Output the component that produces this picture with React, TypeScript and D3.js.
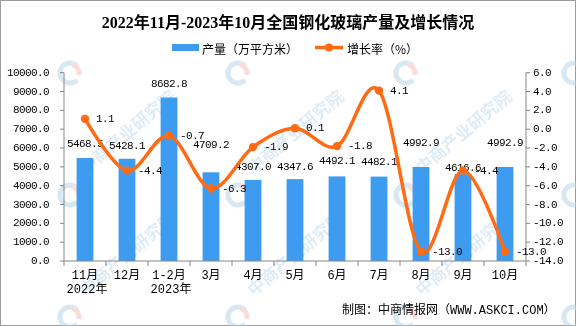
import React from "react";
import * as d3 from "d3";

const categories = ["11月", "12月", "1-2月", "3月", "4月", "5月", "6月", "7月", "8月", "9月", "10月"];
const yearLabels = ["2022年", "", "2023年", "", "", "", "", "", "", "", ""];
const production = [5468.5, 5428.1, 8682.8, 4709.2, 4307.0, 4347.6, 4492.1, 4482.1, 4992.9, 4616.6, 4992.9];
const growth = [1.1, -4.4, -0.7, -6.3, -1.9, 0.1, -1.8, 4.1, -13.0, -4.4, -13.0];
const leftTicks = [0, 1000, 2000, 3000, 4000, 5000, 6000, 7000, 8000, 9000, 10000];
const rightTicks = [-14, -12, -10, -8, -6, -4, -2, 0, 2, 4, 6];
// label lift above bar tops (layout only)
const barLabelLift = [14, 13, 14, 27, 13, 12, 15, 15, 24, 6, 24];

const W = 576;
const H = 326;
const X0 = 64;
const X1 = 526;
const YT = 72.7;
const YB = 261;

const BLUE = "#3d9cf0";
const ORANGE = "#ff6a12";
const AXIS = "#868686";
const MONO = "'Liberation Mono', 'Noto Sans CJK SC', monospace";
const CJK = "'Noto Sans CJK SC', sans-serif";

export default function App() {
  const x = d3.scaleBand<string>().domain(categories).range([X0, X1]).paddingInner(0.6).paddingOuter(0.3);
  const step = x.step();
  const yL = d3.scaleLinear().domain([0, 10000]).range([YB, YT]);
  const yR = d3.scaleLinear().domain([-14, 6]).range([YB, YT]);
  const cx = (c: string) => (x(c) ?? 0) + x.bandwidth() / 2;

  const line = d3
    .line<number>()
    .x((_, i) => cx(categories[i]))
    .y((d) => yR(d))
    .curve(d3.curveCatmullRom.alpha(0));

  const wmX = [70, 238, 406, 574];
  const wmY = [73, 195, 317];

  return (
    <svg width={W} height={H} style={{ position: "absolute", left: 0, top: 0, background: "#fff" }}>
      <rect x={0.5} y={0.5} width={W - 1} height={H - 1} fill="#fff" stroke="#9a9a9a" />

      {/* watermarks */}
      <g opacity={0.55}>
        {wmY.map((wy, r) =>
          wmX.map((wx, c) => (
            <g key={`wm${r}-${c}`} transform={`translate(${wx},${wy})`}>
              <path d="M 7 -7 A 10 10 0 1 0 7 7" fill="none" stroke="#b9d6ea" strokeWidth={5} />
              <path d="M 2 -9 A 10 10 0 0 1 9 2" fill="none" stroke="#f3c2bd" strokeWidth={5} />
              {wy > 150 && wx < 460 && (
                <text
                  transform="translate(16,-20) rotate(-40)"
                  fontFamily={CJK}
                  fontWeight="bold"
                  fontSize={17}
                  fill="#c3dcee"
                >
                  中商产业研究院
                </text>
              )}
            </g>
          ))
        )}
      </g>

      {/* title */}
      <text
        x={288}
        y={22}
        textAnchor="middle"
        dominantBaseline="central"
        fontFamily={"'Liberation Serif', 'Noto Sans CJK SC', serif"}
        fontWeight="bold"
        fontSize={16}
        fill="#000"
      >
        2022年11月-2023年10月全国钢化玻璃产量及增长情况
      </text>

      {/* legend */}
      <rect x={172} y={44} width={27} height={7} fill={BLUE} />
      <text x={202} y={48} dominantBaseline="central" fontFamily={CJK} fontSize={12} fill="#000">
        产量（万平方米）
      </text>
      <line x1={315} x2={343} y1={47.5} y2={47.5} stroke={ORANGE} strokeWidth={3.5} />
      <circle cx={329} cy={47.5} r={4} fill={ORANGE} />
      <text x={347} y={48} dominantBaseline="central" fontFamily={CJK} fontSize={12} fill="#000">
        增长率（%）
      </text>

      {/* bars */}
      {production.map((v, i) => (
        <rect
          key={`b${i}`}
          x={x(categories[i])}
          y={yL(v)}
          width={x.bandwidth()}
          height={YB - yL(v)}
          fill={BLUE}
        />
      ))}

      {/* axes */}
      <line x1={X0} x2={X0} y1={YT} y2={YB} stroke={AXIS} />
      {leftTicks.map((t) => (
        <g key={`lt${t}`}>
          <line x1={X0 - 4} x2={X0} y1={yL(t)} y2={yL(t)} stroke={AXIS} />
          <text
            x={49}
            y={yL(t)}
            textAnchor="end"
            dominantBaseline="central"
            fontFamily={MONO}
            fontSize={11}
            letterSpacing={-0.6}
            fill="#000"
          >
            {t.toFixed(1)}
          </text>
        </g>
      ))}
      <line x1={X1} x2={X1} y1={YT} y2={YB} stroke={AXIS} />
      {rightTicks.map((t) => (
        <g key={`rt${t}`}>
          <line x1={X1} x2={X1 + 4} y1={yR(t)} y2={yR(t)} stroke={AXIS} />
          <text
            x={533}
            y={yR(t)}
            dominantBaseline="central"
            fontFamily={MONO}
            fontSize={11}
            letterSpacing={-0.6}
            fill="#000"
          >
            {t.toFixed(1)}
          </text>
        </g>
      ))}
      <line x1={X0} x2={X1} y1={YB} y2={YB} stroke={AXIS} />
      {d3.range(categories.length + 1).map((i) => (
        <line key={`xt${i}`} x1={X0 + i * step} x2={X0 + i * step} y1={YB} y2={YB + 5} stroke={AXIS} />
      ))}
      {categories.map((c, i) => (
        <g key={`xl${i}`}>
          <text x={cx(c)} y={275.5} textAnchor="middle" dominantBaseline="central" fontFamily={MONO} fontSize={12} fill="#000">
            {c}
          </text>
          {yearLabels[i] && (
            <text x={cx(c) + 2} y={289.5} textAnchor="middle" dominantBaseline="central" fontFamily={MONO} fontSize={12} fill="#000">
              {yearLabels[i]}
            </text>
          )}
        </g>
      ))}

      {/* bar labels */}
      {production.map((v, i) => (
        <text
          key={`bl${i}`}
          x={cx(categories[i])}
          y={yL(v) - barLabelLift[i]}
          textAnchor="middle"
          dominantBaseline="central"
          fontFamily={MONO}
          fontSize={11}
          letterSpacing={-0.6}
          fill="#000"
        >
          {v.toFixed(1)}
        </text>
      ))}

      {/* growth line */}
      <path d={line(growth) ?? ""} fill="none" stroke={ORANGE} strokeWidth={3.5} />
      {growth.map((g, i) => (
        <circle key={`p${i}`} cx={cx(categories[i])} cy={yR(g)} r={4.2} fill={ORANGE} />
      ))}
      {growth.map((g, i) => (
        <text
          key={`gl${i}`}
          x={cx(categories[i]) + 11}
          y={yR(g)}
          dominantBaseline="central"
          fontFamily={MONO}
          fontSize={11}
          letterSpacing={-0.6}
          fill="#000"
        >
          {g.toFixed(1)}
        </text>
      ))}

      {/* footer */}
      <text x={342} y={311} dominantBaseline="central" fontFamily={MONO} fontSize={12} fill="#000">
        制图：中商情报网（WWW.ASKCI.COM）
      </text>
    </svg>
  );
}
